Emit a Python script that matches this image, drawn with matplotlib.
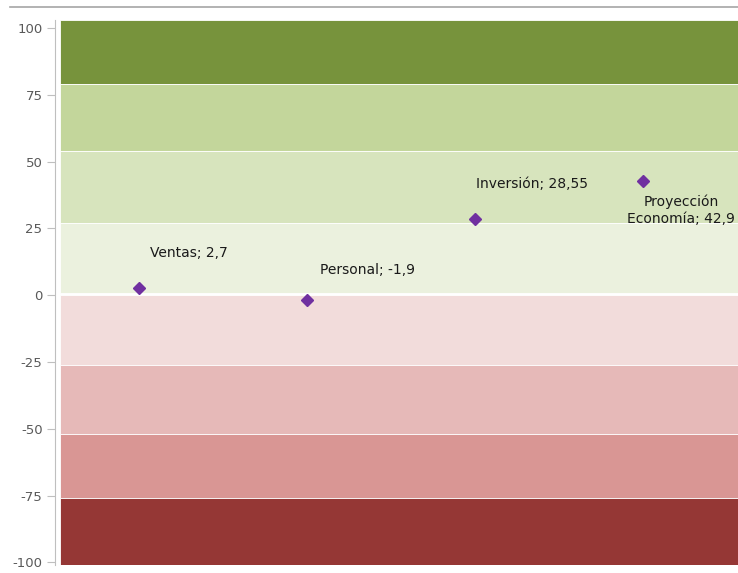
import matplotlib.pyplot as plt

# ---------- DATA ----------
categories = ["Ventas", "Personal", "Inversión", "Proyección\nEconomía"]
values = [2.7, -1.9, 28.55, 42.9]
value_labels = ["2,7", "-1,9", "28,55", "42,9"]

# background bands (lower, upper)
band_edges = [(79, 103), (54, 79), (27, 54), (1, 27),
              (-26, 0), (-52, -26), (-76, -52), (-101, -76)]
band_colors = ["#77933C", "#C3D69B", "#D7E4BD", "#EBF1DE",
               "#F2DCDB", "#E6B9B8", "#D99694", "#953735"]
yticks = [100, 75, 50, 25, 0, -25, -50, -75, -100]

# ---------- FIGURE ----------
W, H = 738, 573
fig = plt.figure(figsize=(W / 100, H / 100), dpi=100)
plt.rcParams["font.family"] = ["DejaVu Sans"]

ax = fig.add_axes([55 / W, 8 / H, (W - 55) / W, (565 - 20) / H])
ax.set_xlim(0.5, 4.565)
ax.set_ylim(-101, 103)

x_left = 0.5 + 5 / 168
for (lo, hi), c in zip(band_edges, band_colors):
    ax.fill_between([x_left, 5], lo, hi, color=c, lw=0.6, edgecolor="#ffffff", zorder=1)

xs = list(range(1, len(values) + 1))
ax.plot(xs, values, ls="none", marker="D", ms=6, color="#7030A0", zorder=5)

offsets = [(11, 35, "left"), (13, 30, "left"), (1, 35, "left"), (38, -30, "center")]
for x, v, cat, lab, (dx, dy, ha) in zip(xs, values, categories, value_labels, offsets):
    ax.annotate(f"{cat}; {lab}", (x, v), xytext=(dx, dy), textcoords="offset pixels",
                ha=ha, va="center", fontsize=10, color="#1a1a1a", zorder=6,
                linespacing=1.3)

ax.set_yticks(yticks)
ax.set_yticklabels([str(t) for t in yticks], fontsize=9.5, color="#595959")
ax.set_xticks([])
for s in ["top", "right", "bottom"]:
    ax.spines[s].set_visible(False)
ax.spines["left"].set_color("#BFBFBF")
ax.tick_params(axis="y", length=6, color="#BFBFBF", pad=3)

# top rule
fig.add_artist(plt.Line2D([10 / W, 1], [1 - 6.7 / H, 1 - 6.7 / H], color="#A6A6A6", lw=1.2))

fig.savefig("out.png", dpi=100)
